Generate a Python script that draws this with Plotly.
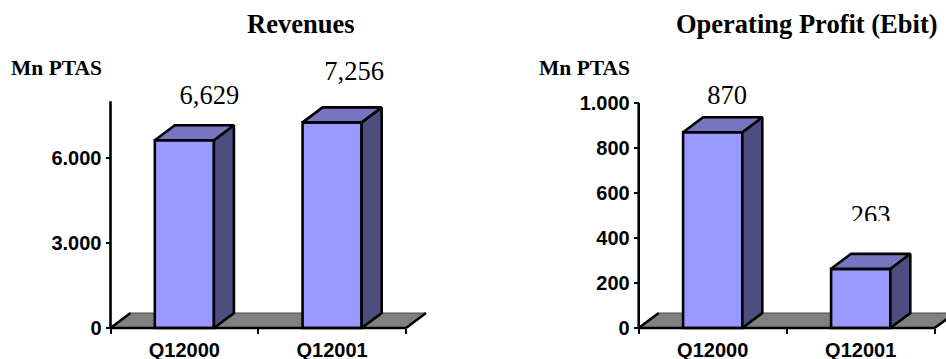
import plotly.graph_objects as go

# Quarterly figures, millions of pesetas
categories = ["Q12000", "Q12001"]
revenues = [6629, 7256]
ebit = [870, 263]
value_text_rev = ["6,629", "7,256"]
value_text_ebit = ["870", "263"]
rev_ticks = [0, 3000, 6000]
rev_tick_text = ["0", "3.000", "6.000"]
ebit_ticks = [0, 200, 400, 600, 800, 1000]
ebit_tick_text = ["0", "200", "400", "600", "800", "1.000"]

W, H = 946, 359
BASE_Y, FRAME_TOP, PAD = 328, 55, 6
PANELS = [
    dict(x0=110.5, x1=406, right=430, xa="x", ya="y", vals=revenues, text=value_text_rev,
         axis_top=8000, px_per_y=170 / 6000, ticks=rev_ticks, tick_text=rev_tick_text,
         shift=[(25, -43), (22, -49)]),
    dict(x0=638.7, x1=934.7, right=946, xa="x2", ya="y2", vals=ebit, text=value_text_ebit,
         axis_top=1000, px_per_y=225 / 1000, ticks=ebit_ticks, tick_text=ebit_tick_text,
         shift=[(14.5, -35), (10, -51)]),
]

BAR_W = 0.4
DEPTH_PX = (20, 15)
FRONT, TOP, SIDE, FLOOR, EDGE, INK = "#9999FF", "#7676C0", "#4D4D80", "#808080", "#4A4A4A", "#000000"
STROKE = 2.6

fig = go.Figure()


def polyline(xs, ys, xa, ya, fill=None, color=INK, width=STROKE, z=0):
    fig.add_trace(go.Scatter(
        x=xs, y=ys, mode="lines", fill="toself" if fill else "none", fillcolor=fill,
        line=dict(color=color, width=width), xaxis=xa, yaxis=ya, zorder=z,
        cliponaxis=False, hoverinfo="skip", showlegend=False))


def polygon(xs, ys, fill, xa, ya, color=INK, width=STROKE, z=0):
    polyline(xs + xs[:1], ys + ys[:1], xa, ya, fill, color, width, z)


for p in PANELS:
    px_per_x = (p["x1"] - p["x0"]) / 2
    px_per_y = p["px_per_y"]
    dx, dy = DEPTH_PX[0] / px_per_x, DEPTH_PX[1] / px_per_y
    xa, ya = p["xa"], p["ya"]

    # Floor plate under the columns
    polygon([-0.5, -0.5 + dx, 1.5 + dx, 1.5], [0, dy, dy, 0], FLOOR, xa, ya, EDGE, 1.2, z=0)
    polyline([-0.5, -0.5 + dx], [0, dy], xa, ya, z=0)
    polyline([1.5, 1.5 + dx], [0, dy], xa, ya, z=0)

    # Column faces: front from a bar trace, depth faces offset from the same values
    fig.add_trace(go.Bar(
        x=[0, 1], y=p["vals"], width=BAR_W, xaxis=xa, yaxis=ya, showlegend=False, cliponaxis=False,
        zorder=1, marker=dict(color=FRONT, line=dict(color=INK, width=STROKE)), hoverinfo="skip"))
    for i, v in enumerate(p["vals"]):
        l, r = i - BAR_W / 2, i + BAR_W / 2
        polygon([r, r + dx, r + dx, r], [0, dy, v + dy, v], SIDE, xa, ya, z=2)
        polygon([l, l + dx, r + dx, r], [v, v + dy, v + dy, v], TOP, xa, ya, z=2)

    # Axis lines stop at the plot area, while the floor and labels run past it
    polyline([-0.5, 1.5], [0, 0], xa, ya, z=3)
    polyline([-0.5, -0.5], [0, p["axis_top"]], xa, ya, z=3)

    # Value labels
    fig.add_trace(go.Scatter(
        x=[i + s[0] / px_per_x for i, s in enumerate(p["shift"])],
        y=[v - s[1] / px_per_y for v, s in zip(p["vals"], p["shift"])],
        mode="text", text=p["text"], textposition="middle center", zorder=3,
        textfont=dict(family="Liberation Serif", size=26.5, color=INK),
        xaxis=xa, yaxis=ya, cliponaxis=False, hoverinfo="skip", showlegend=False))

x_common = dict(
    tickmode="array", tickvals=[0, 1], ticktext=categories, automargin=False,
    ticks="", showgrid=False, zeroline=False, showline=False, ticklabelstandoff=8,
    tickfont=dict(family="Liberation Sans", size=20, color=INK, weight="bold"),
    minor=dict(tickmode="array", tickvals=[-0.5, 0.5, 1.5], ticks="outside", ticklen=5,
               tickwidth=2, tickcolor=INK, showgrid=False),
)
y_common = dict(
    ticks="outside", ticklen=5, tickwidth=2, tickcolor=INK, showgrid=False, zeroline=False,
    showline=False, tickmode="array", automargin=False,
    tickfont=dict(family="Liberation Sans", size=20, color=INK, weight="bold"),
)
y_dom = [(H - BASE_Y - PAD) / H, (H - FRAME_TOP) / H]

layout_axes = {}
for n, p in zip(["", "2"], PANELS):
    px_per_x = (p["x1"] - p["x0"]) / 2
    # Plot areas are padded left and below so strokes on the axes are not cut;
    # the axes themselves are pinned at the padded edge's inner position
    layout_axes["xaxis" + n] = dict(
        x_common, domain=[(p["x0"] - PAD) / W, p["right"] / W],
        anchor="free", position=(H - BASE_Y) / H,
        range=[-0.5 - PAD / px_per_x, -0.5 + (p["right"] - p["x0"]) / px_per_x])
    layout_axes["yaxis" + n] = dict(
        y_common, domain=y_dom, anchor="free", position=p["x0"] / W,
        range=[-PAD / p["px_per_y"], (BASE_Y - FRAME_TOP) / p["px_per_y"]],
        tickvals=p["ticks"], ticktext=p["tick_text"])


def note(text, x, y, family, size):
    return dict(text=f"<b>{text}</b>", x=x / W, y=1 - y / H,
                xref="paper", yref="paper", showarrow=False, xanchor="center", yanchor="middle",
                font=dict(family=family, size=size, color=INK))


fig.update_layout(
    width=W, height=H, margin=dict(l=0, r=0, t=0, b=0), autosize=False,
    paper_bgcolor="white", plot_bgcolor="rgba(0,0,0,0)", showlegend=False, barmode="overlay",
    annotations=[
        note("Revenues", 300, 24, "Liberation Serif", 26.5),
        note("Operating Profit (Ebit)", 807, 24, "Liberation Serif", 26.5),
        note("Mn PTAS", 56.5, 68, "Liberation Serif", 21.5),
        note("Mn PTAS", 584.5, 68, "Liberation Serif", 21.5),
    ],
    # Blank band that trims the lower part of the 263 label
    shapes=[dict(type="rect", xref="paper", yref="paper", layer="above",
                 x0=850 / W, x1=895 / W, y0=1 - 240 / H, y1=1 - 221 / H,
                 fillcolor="white", line=dict(width=0))],
    **layout_axes,
)

fig.write_html("out.html")
